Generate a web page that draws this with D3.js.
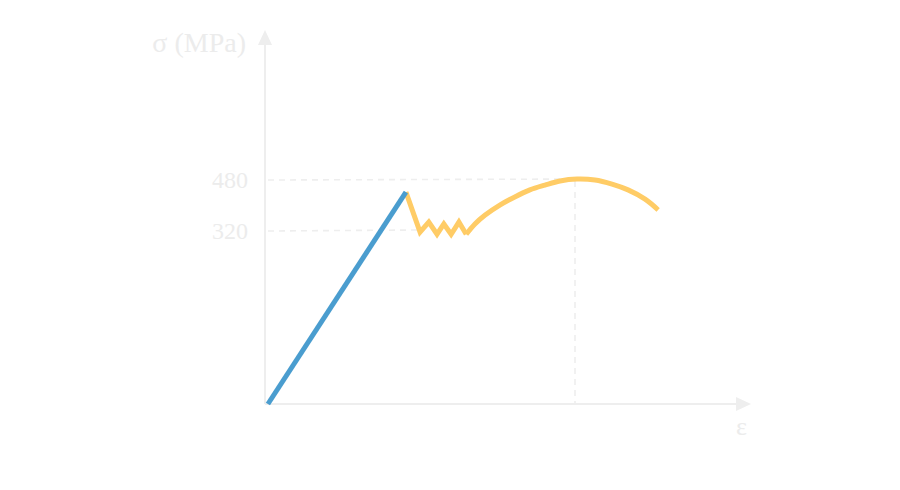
<!DOCTYPE html>
<html>
<head>
<meta charset="utf-8">
<script src="https://cdn.jsdelivr.net/npm/d3@7"></script>
<style>
  html, body { margin: 0; padding: 0; background: #ffffff; }
  svg { display: block; }
</style>
</head>
<body>
<svg id="chart" width="900" height="490"></svg>
<script>
// ---- data (schematic stress–strain diagram) ----
const elasticStrain = [0.6, 29.0];
const elasticStress = [0, 442];

const yieldStrain = [29.0, 31.9, 33.7, 35.4, 36.8, 38.3, 39.9, 41.4];
const yieldStress = [442, 318, 348, 314, 342, 314, 348, 314];

const hardeningStrain = [41.4, 43.2, 45.3, 48.4, 51.4, 54.5, 57.6, 60.7, 64.2, 67.9, 71.4, 74.7, 78.2, 80.9];
const hardeningStress = [314, 342, 370, 402, 427, 449, 464, 477, 483, 480, 467, 449, 420, 386];

const tickValues = [320, 480];
const tickLabels = ["320", "480"];
const yLabel = "σ (MPa)";
const xLabel = "ε";

// ---- layout ----
const svg = d3.select("#chart");
const axisColor = "#eeeeee";
const textColor = "#ececec";
const blue = "#4a9dcf";
const yellow = "#ffcc66";
const fontFamily = "'Liberation Serif', 'Times New Roman', serif";

const x0 = 265, y0 = 404, xEnd = 751, yTop = 30;

const x = d3.scaleLinear().domain([0, 100]).range([x0, xEnd]);
// schematic (piecewise) stress axis
const y = d3.scaleLinear().domain([0, 320, 480]).range([y0, 231, 180]);

const zip = (a, b) => a.map((v, i) => [v, b[i]]);

// dashed guide lines
const peakIdx = hardeningStress.indexOf(d3.max(hardeningStress));
const peak = [hardeningStrain[peakIdx], hardeningStress[peakIdx]];
const lowYield = [yieldStrain[1], yieldStress[1]];

const guides = svg.append("g")
  .attr("stroke", axisColor).attr("stroke-width", 1.6)
  .attr("stroke-dasharray", "6,5").attr("fill", "none");
guides.append("line")
  .attr("x1", x(0) + 3).attr("y1", y(480))
  .attr("x2", x(peak[0])).attr("y2", y(peak[1]));
guides.append("line")
  .attr("x1", x(0) + 3).attr("y1", y(320))
  .attr("x2", x(lowYield[0])).attr("y2", y(320) - 1);
guides.append("line")
  .attr("x1", x(peak[0]) - 2).attr("y1", y(peak[1]) + 2)
  .attr("x2", x(peak[0]) - 2).attr("y2", y0);

// axes
const ax = svg.append("g");
ax.append("line").attr("x1", x0).attr("y1", y0).attr("x2", x0).attr("y2", yTop + 14)
  .attr("stroke", axisColor).attr("stroke-width", 2);
ax.append("line").attr("x1", x0).attr("y1", y0).attr("x2", xEnd - 14).attr("y2", y0)
  .attr("stroke", axisColor).attr("stroke-width", 2);
ax.append("path")
  .attr("d", `M${x0},${yTop} L${x0 - 7},${yTop + 15} L${x0 + 7},${yTop + 15} Z`)
  .attr("fill", axisColor);
ax.append("path")
  .attr("d", `M${xEnd},${y0} L${xEnd - 15},${y0 - 7} L${xEnd - 15},${y0 + 7} Z`)
  .attr("fill", axisColor);

// tick labels
svg.append("g").selectAll("text").data(tickValues).join("text")
  .attr("x", 248).attr("y", d => y(d)).attr("dy", "0.33em")
  .attr("text-anchor", "end")
  .attr("font-family", fontFamily).attr("font-size", 24)
  .attr("fill", textColor)
  .text((d, i) => tickLabels[i]);

// axis labels
svg.append("text").attr("x", 246).attr("y", 52).attr("text-anchor", "end")
  .attr("font-family", fontFamily).attr("font-size", 28).attr("fill", textColor)
  .text(yLabel);
svg.append("text").attr("x", 747).attr("y", 435).attr("text-anchor", "end")
  .attr("font-family", fontFamily).attr("font-size", 26).attr("fill", textColor)
  .text(xLabel);

// curves
const lineLinear = d3.line().x(d => x(d[0])).y(d => y(d[1]));
const lineSmooth = d3.line().x(d => x(d[0])).y(d => y(d[1])).curve(d3.curveCatmullRom);

svg.append("path").datum(zip(yieldStrain, yieldStress))
  .attr("d", lineLinear).attr("fill", "none")
  .attr("stroke", yellow).attr("stroke-width", 5).attr("stroke-linejoin", "miter");
svg.append("path").datum(zip(hardeningStrain, hardeningStress))
  .attr("d", lineSmooth).attr("fill", "none")
  .attr("stroke", yellow).attr("stroke-width", 5);
svg.append("path").datum(zip(elasticStrain, elasticStress))
  .attr("d", lineLinear).attr("fill", "none")
  .attr("stroke", blue).attr("stroke-width", 5);
</script>
</body>
</html>
